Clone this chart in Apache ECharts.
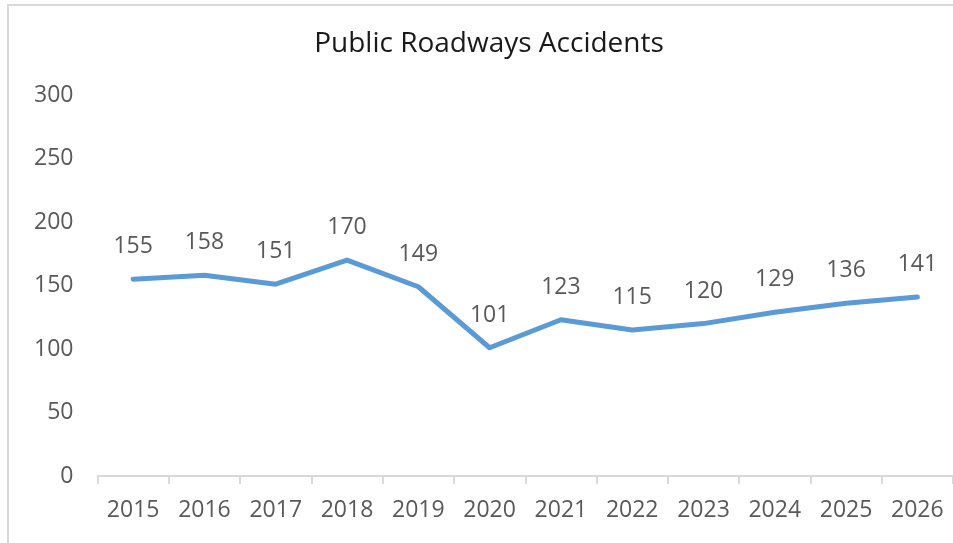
<!DOCTYPE html>
<html>
<head>
<meta charset="utf-8">
<script src="https://cdn.jsdelivr.net/npm/echarts@6/dist/echarts.min.js"></script>
<style>
  html, body { margin: 0; padding: 0; background: #fff; }
  #chart { width: 953px; height: 543px; }
</style>
</head>
<body>
<div id="chart"></div>
<script>
const years = ['2015', '2016', '2017', '2018', '2019', '2020', '2021', '2022', '2023', '2024', '2025', '2026'];
const accidents = [155, 158, 151, 170, 149, 101, 123, 115, 120, 129, 136, 141];
const yMin = 0;
const yMax = 300;
const yStep = 50;

const chart = echarts.init(document.getElementById('chart'));
chart.setOption({
  backgroundColor: '#fff',
  textStyle: { fontFamily: 'Open Sans' },
  graphic: [
    {
      type: 'rect',
      silent: true,
      shape: { x: 8, y: 5, width: 1000, height: 600 },
      style: { fill: 'none', stroke: '#d9d9d9', lineWidth: 2 }
    }
  ],
  title: {
    text: 'Public Roadways Accidents',
    left: 484,
    textAlign: 'center',
    top: 25,
    textStyle: {
      fontFamily: 'Open Sans',
      fontSize: 28,
      fontWeight: 'normal',
      color: '#1a1a1a'
    }
  },
  grid: {
    left: 97.5,
    right: -2.5,
    top: 95,
    bottom: 67
  },
  xAxis: {
    type: 'category',
    data: years,
    boundaryGap: true,
    axisLine: { lineStyle: { color: '#d9d9d9', width: 2 } },
    axisTick: { show: true, length: 8, lineStyle: { color: '#d9d9d9', width: 2 } },
    axisLabel: {
      interval: 0,
      margin: 23,
      color: '#595959',
      fontSize: 23
    },
    splitLine: { show: false }
  },
  yAxis: {
    type: 'value',
    min: yMin,
    max: yMax,
    interval: yStep,
    axisLine: { show: false },
    axisTick: { show: false },
    axisLabel: {
      margin: 24,
      color: '#595959',
      fontSize: 23
    },
    splitLine: { show: false }
  },
  series: [
    {
      type: 'line',
      data: accidents,
      showSymbol: true,
      symbol: 'circle',
      symbolSize: 0,
      itemStyle: { color: '#5b9bd5' },
      lineStyle: { color: '#5b9bd5', width: 5, join: 'round', cap: 'round' },
      label: {
        show: true,
        position: 'top',
        distance: 21,
        color: '#595959',
        fontSize: 23
      }
    }
  ]
});
</script>
</body>
</html>
